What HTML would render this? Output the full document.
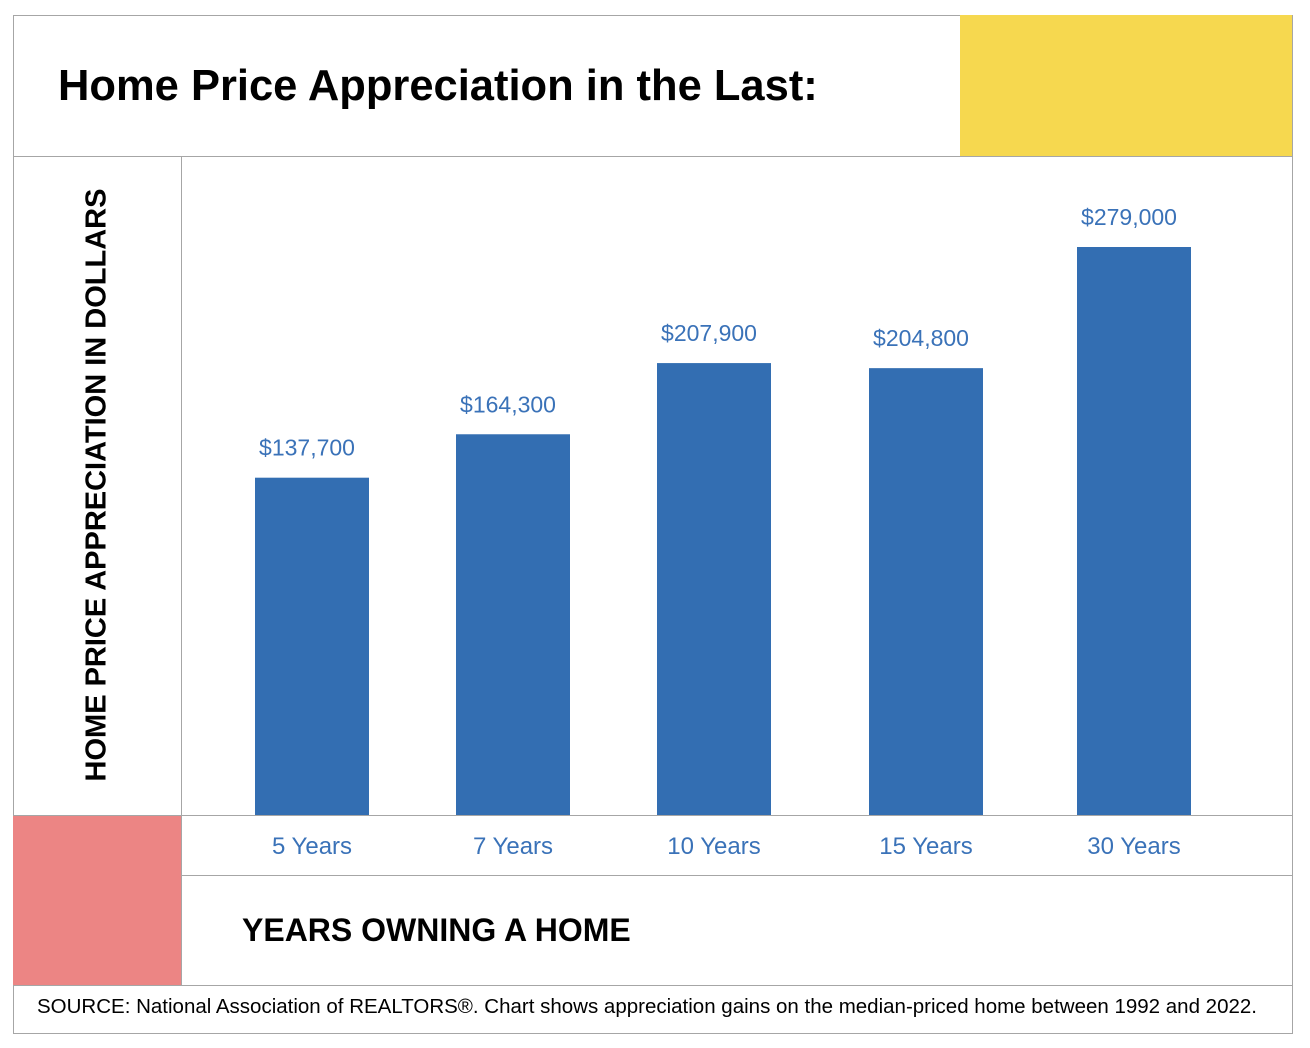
<!DOCTYPE html>
<html><head><meta charset="utf-8"><style>
body{margin:0;width:1310px;height:1048px;background:#fff;font-family:"Liberation Sans",sans-serif;position:relative;overflow:hidden}
.a{position:absolute}
.ln{position:absolute;background:#a6a6a6}
</style></head><body>
<div class="a" style="left:13px;top:15px;width:1278px;height:1017px;border:1px solid #a6a6a6"></div>
<div class="a" style="left:960px;top:15px;width:332px;height:141px;background:#f6d84f"></div>
<div class="a" style="left:13px;top:815px;width:168px;height:170px;background:#ec8584"></div>
<div class="ln" style="left:13px;top:156px;width:1279px;height:1px"></div>
<div class="ln" style="left:181px;top:156px;width:1px;height:829px"></div>
<div class="ln" style="left:13px;top:815px;width:1279px;height:1px"></div>
<div class="ln" style="left:181px;top:875px;width:1111px;height:1px"></div>
<div class="ln" style="left:13px;top:985px;width:1279px;height:1px"></div>
<div class="a" style="left:58px;top:62px;font-size:43.5px;font-weight:bold;color:#000;white-space:nowrap">Home Price Appreciation in the Last:</div>
<div class="a" style="left:97px;top:485px;width:600px;margin-left:-300px;text-align:center;transform:translate(0,-50%) rotate(-90deg);font-size:29px;font-weight:bold;color:#000">HOME PRICE APPRECIATION IN DOLLARS</div>
<div class="a" style="left:242px;top:912px;font-size:32px;font-weight:bold;color:#000;white-space:nowrap">YEARS OWNING A HOME</div>
<div class="a" style="left:37px;top:995px;font-size:20.5px;color:#000;white-space:nowrap">SOURCE: National Association of REALTORS®. Chart shows appreciation gains on the median-priced home between 1992 and 2022.</div>
<svg class="a" style="left:0;top:0" width="1310" height="1048" id="plot"></svg>
<script>
const categories=["5 Years","7 Years","10 Years","15 Years","30 Years"];
const values=[137700,164300,207900,204800,279000];
const valueLabels=["$137,700","$164,300","$207,900","$204,800","$279,000"];
const yMin=-68900, yMax=279000;
const baseY=815, topY=247;
function y(v){return baseY-(v-yMin)/(yMax-yMin)*(baseY-topY);}
const centers=[312,513,714,926,1134];
function x(i){return centers[i];}
const svg=document.getElementById('plot');
const NS="http://www.w3.org/2000/svg";
categories.forEach((c,i)=>{
  const r=document.createElementNS(NS,'rect');
  
  
  r.setAttribute('x',x(i)-57);r.setAttribute('width',114);
  r.setAttribute('y',y(values[i]));r.setAttribute('height',baseY-y(values[i]));
  r.setAttribute('fill','#336eb2');svg.appendChild(r);
  const t=document.createElementNS(NS,'text');
  
  
  t.setAttribute('x',x(i)-5);t.setAttribute('y',y(values[i])-22);
  t.setAttribute('text-anchor','middle');t.setAttribute('font-size','23');
  t.setAttribute('fill','#3a72b8');t.textContent=valueLabels[i];svg.appendChild(t);
  const l=document.createElementNS(NS,'text');
  
  
  l.setAttribute('x',x(i));l.setAttribute('y',854);
  l.setAttribute('text-anchor','middle');l.setAttribute('font-size','24');
  l.setAttribute('fill','#3a72b8');l.textContent=c;svg.appendChild(l);
});
</script>
</body></html>
